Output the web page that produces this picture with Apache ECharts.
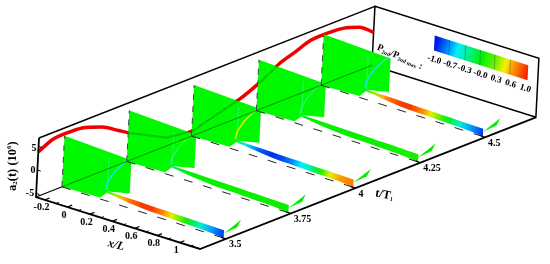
<!DOCTYPE html>
<html lang="en">

<head>
    <meta charset="UTF-8">
    <title>Second mode pressure</title>
    <script src="https://cdn.jsdelivr.net/npm/echarts@6/dist/echarts.min.js"></script>
    <style>
        html, body { margin: 0; padding: 0; background: #fff; }
    </style>
</head>

<body>
    <div id="main" style="width: 550px;height:264px;"></div>
    <script type="text/javascript">
        // axis ranges and ticks
        var xRange = [-0.28, 1.18];
        var tRange = [3.4, 4.696];
        var aRange = [-5.74, 6.81];
        var xTicks = [-0.2, 0, 0.2, 0.4, 0.6, 0.8, 1];
        var xTickLabels = ['-0.2', '0', '0.2', '0.4', '0.6', '0.8', '1'];
        var xMinorTicks = [-0.1, 0.1, 0.3, 0.5, 0.7, 0.9, 1.1];
        var tTicks = [3.5, 3.75, 4, 4.25, 4.5];
        var tTickLabels = ['3.5', '3.75', '4', '4.25', '4.5'];
        var aTicks = [-5, 0, 5];

        // a2(t) curve on the x = xmin wall
        var a2Times = [3.4, 3.454, 3.504, 3.568, 3.646, 3.711, 3.755, 3.905, 4.005, 4.187, 4.255, 4.333, 4.388, 4.45, 4.515, 4.579, 4.638, 4.696];
        var a2Values = [3.83, 5.32, 5.53, 5.32, 3.83, 1.7, 0.21, -4.04, -4.68, -1.7, 0, 2.55, 3.62, 4.89, 5.02, 4.7, 3.62, 1.28];

        // outline of the slice, height counted from the floor in a2 units
        var panelX = [-0.28, -0.28, 0.317, 0.317, 0.13, 0.06];
        var panelH = [0, 10.85, 10.2, 3.1, 2.1, 0.3];
        var arcX = [0.103, 0.12, 0.174, 0.254, 0.3];
        var arcH = [2.25, 4.1, 6.6, 9.2, 10.3];
        var arcColors = ['#18e0e0', '#40f0a0', '#e0f000', '#40f0a0', '#18e0e0'];

        // thin duct part of the slice
        var stripX = [0.12, 0.18, 0.25, 0.31, 0.42, 0.5, 0.6, 0.68, 0.74, 0.8, 0.86, 0.94, 1.04, 1.16];
        var stripLow = [1.7, 1.55, 1.3, 1.1, 0.85, 0.7, 0.65, 0.6, 0.55, 0.5, 0.45, 0.4, 0.3, 0];
        var stripHigh = [2.1, 2.1, 2.05, 2.05, 2, 1.95, 1.9, 1.9, 1.85, 1.8, 1.8, 1.75, 1.7, 1.65];
        var wedgeX = [1.16, 1.305, 1.275];
        var wedgeH = [1.0, 5, 3.2];

        // pressure along the duct for each time
        var p350 = [0.15, 0.35, 0.6, 0.75, 0.88, 0.88, 0.7, 0.45, 0.3, 0.05, -0.15, -0.45, -0.7, -0.95];
        var p375 = [-0.25, -0.08, -0.03, 0, 0, 0, 0, 0, 0, 0, 0, 0, 0, 0];
        var p400 = [-0.2, -0.5, -0.7, -0.85, -0.95, -0.9, -0.75, -0.55, -0.45, -0.2, 0.05, 0.45, 0.65, 0.72];
        var p425 = [-0.1, -0.03, 0, 0, 0, 0, 0, 0, 0, 0, 0, 0.02, 0.04, 0.02];
        var p450 = [0.15, 0.35, 0.6, 0.75, 0.88, 0.88, 0.7, 0.45, 0.3, 0.05, -0.15, -0.45, -0.7, -0.95];
        var stripP = [p350, p375, p400, p425, p450];

        // colour scale
        var scaleValues = [-1, -0.68, -0.55, -0.34, -0.02, 0.29, 0.48, 0.62, 1];
        var scaleColors = ['#0018e8', '#00a8ff', '#00f0f8', '#00f0a0', '#00f000', '#80f000', '#f8f000', '#ffa000', '#f01000'];
        var barLabels = ['-1.0', '-0.7', '-0.3', '-0.0', '0.3', '0.6', '1.0'];
        var barLabelX = [0.26, 0.4, 0.53, 0.67, 0.81, 0.94, 1.07];
        var barLines = [-0.68, -0.34, -0.02, 0.29, 0.62];

        var PANEL_GREEN = '#00f800';
        var SERIF = '"Liberation Serif", "Times New Roman", serif';

        // oblique view of the (x, t, height) box onto the page
        function project(x, t, h) {
            var dx = x - xRange[0], dt = t - tRange[0];
            return [
                36 + dx * 112.3 + dt * 259.2 + h * 0.24,
                197 + dx * 35.6 - dt * 101.6 - h * 4.7
            ];
        }
        function aHeight(a) {
            return a - aRange[0];
        }
        var hTop = aHeight(aRange[1]);

        function scaleColor(p) {
            // piecewise colour between the scale stops
            var i = 0;
            while (i < scaleValues.length - 2 && p > scaleValues[i + 1]) i++;
            var f = (p - scaleValues[i]) / (scaleValues[i + 1] - scaleValues[i]);
            f = Math.max(0, Math.min(1, f));
            var a = echarts.color.parse(scaleColors[i]), b = echarts.color.parse(scaleColors[i + 1]);
            return 'rgb(' + [0, 1, 2].map(function (k) { return Math.round(a[k] + (b[k] - a[k]) * f); }).join(',') + ')';
        }

        function line(api, pts, width, color, extra) {
            return {
                type: 'polyline',
                shape: { points: pts.map(function (p) { return api.coord(p); }) },
                style: Object.assign({ stroke: color, lineWidth: width, fill: 'none' }, extra || {})
            };
        }
        function poly(api, pts, fill) {
            return {
                type: 'polygon',
                shape: { points: pts.map(function (p) { return api.coord(p); }) },
                style: { fill: fill }
            };
        }
        function label(pos, text, size, opts) {
            opts = opts || {};
            return {
                type: 'text',
                x: pos[0],
                y: pos[1],
                rotation: opts.rotation || 0,
                style: {
                    text: text,
                    font: (opts.italic ? 'italic ' : '') + 'bold ' + size + 'px ' + SERIF,
                    fill: '#000',
                    align: opts.align || 'center',
                    verticalAlign: 'middle',
                    rich: opts.rich
                }
            };
        }

        // one custom series per layer
        function layer(name, z, draw) {
            return {
                name: name,
                type: 'custom',
                coordinateSystem: 'cartesian2d',
                z: z,
                silent: true,
                clip: false,
                animation: false,
                data: [[0, 0]],
                renderItem: function (params, api) {
                    return { type: 'group', children: draw(api) };
                }
            };
        }

        var xMin = xRange[0], xMax = xRange[1], tMin = tRange[0], tMax = tRange[1];

        function drawBackFrame(api) {
            return [
                line(api, [project(xMin, tMax, 0), project(xMin, tMax, hTop), project(xMax, tMax, hTop), project(xMax, tMax, 0), project(xMin, tMax, 0)], 1.5, '#000'),
                line(api, [project(xMin, tMin, hTop), project(xMin, tMax, hTop)], 1.5, '#000'),
                line(api, [project(xMin, tMin, 0), project(xMin, tMax, 0)], 1.2, '#000')
            ];
        }

        function drawPanels(api) {
            var out = [];
            tTicks.forEach(function (t, k) {
                out.push(poly(api, panelX.map(function (x, i) { return project(x, t, panelH[i]); }), PANEL_GREEN));
                out.push(line(api, [project(0.12, t, 2.2), project(0.12, t, 9.2)], 1, '#20f860'));

                // shock arc, strong at the wall and fading upward
                var p0 = api.coord(project(arcX[0], t, arcH[0]));
                var p1 = api.coord(project(arcX[arcX.length - 1], t, arcH[arcH.length - 1]));
                var fade = new echarts.graphic.LinearGradient(p0[0], p0[1], p1[0], p1[1], [
                    { offset: 0, color: arcColors[k] },
                    { offset: 0.55, color: arcColors[k] },
                    { offset: 1, color: '#30f080' }
                ], true);
                out.push(line(api, arcX.map(function (x, i) { return project(x, t, arcH[i]); }), k % 2 ? 1 : 1.6, fade));

                // duct with pressure colours running along it
                var upper = stripX.map(function (x, i) { return project(x, t, stripHigh[i]); });
                var lower = stripX.map(function (x, i) { return project(x, t, stripLow[i]); }).reverse();
                var a = api.coord(project(stripX[0], t, 0));
                var b = api.coord(project(stripX[stripX.length - 1], t, 0));
                var span = stripX[stripX.length - 1] - stripX[0];
                var stops = stripX.map(function (x, i) {
                    return { offset: (x - stripX[0]) / span, color: scaleColor(stripP[k][i]) };
                });
                out.push(poly(api, upper.concat(lower), new echarts.graphic.LinearGradient(a[0], a[1], b[0], b[1], stops, true)));
                out.push(poly(api, wedgeX.map(function (x, i) { return project(x, t, wedgeH[i]); }), '#00f000'));
            });
            return out;
        }

        function drawOverPanels(api) {
            var out = [];
            // floor edge and the a2 curve show through the slices
            out.push(line(api, [project(xMin, 3.5, 0), project(xMin, tMax, 0)], 1, 'rgba(0,60,0,0.55)'));
            var seen = [a2Times.slice(6, 10), a2Times.slice(10, 12)];
            var seenA = [a2Values.slice(6, 10), a2Values.slice(10, 12)];
            seen.forEach(function (ts, j) {
                out.push(line(api, ts.map(function (t, i) { return project(xMin, t, aHeight(seenA[j][i])); }), 2, 'rgba(0,90,0,0.3)'));
            });
            tTicks.forEach(function (t) {
                out.push(line(api, [project(xMin, t, 0), project(xMin, t, panelH[1])], 1, '#444', { lineDash: [6, 6] }));
                out.push(line(api, [project(xMin, t, 0), project(1.16, t, 0)], 1, '#222', { lineDash: [9, 11] }));
            });
            return out;
        }

        function drawAxes(api) {
            var out = [];
            out.push(line(api, [project(xMin, tMin, hTop), project(xMin, tMin, 0), project(xMax, tMin, 0), project(xMax, tMax, 0)], 1.8, '#000'));
            xTicks.forEach(function (x, i) {
                out.push(line(api, [project(x, tMin, 0), project(x, tMin + 0.018, 0)], 1.2, '#000'));
                var c = api.coord(project(x, tMin, 0));
                out.push(label([c[0] - 3.5, c[1] + 8], xTickLabels[i], 10));
            });
            xMinorTicks.forEach(function (x) {
                out.push(line(api, [project(x, tMin, 0), project(x, tMin + 0.01, 0)], 1, '#000'));
            });
            tTicks.forEach(function (t, i) {
                out.push(line(api, [project(xMax, t, 0), project(xMax - 0.04, t, 0)], 1.2, '#000'));
                var c = api.coord(project(xMax, t, 0));
                out.push(label([c[0] + 3, c[1] + 6], tTickLabels[i], 10, { align: 'left' }));
            });
            aTicks.forEach(function (a) {
                out.push(line(api, [project(xMin, tMin, aHeight(a)), project(xMin + 0.03, tMin, aHeight(a))], 1, '#000'));
                var c = api.coord(project(xMin, tMin, aHeight(a)));
                out.push(label([c[0] - 2, c[1] + (a > 0 ? 1.5 : 0)], String(a), 10, { align: 'right' }));
            });

            // axis titles
            var sub = { font: 'bold 7px ' + SERIF, verticalAlign: 'bottom', lineHeight: 12 };
            var sup = { font: 'bold 7px ' + SERIF, verticalAlign: 'top', lineHeight: 12 };
            var aPos = api.coord(project(-0.5, tMin, 4.9));
            out.push(label(aPos, 'a{s|2}(t) (10{u|6})', 12.5, { rotation: Math.PI / 2, rich: { s: sub, u: sup } }));
            var xPos = api.coord(project(0.455, tMin - 0.005, -4.6));
            out.push(label(xPos, 'x/L', 12, { italic: true, rotation: -0.26 }));
            var tPos = api.coord(project(1.37, 4.03, -0.7));
            out.push(label(tPos, 't/T{s|1}', 12, { rotation: -0.2, rich: { s: { font: 'bold 6px ' + SERIF, verticalAlign: 'bottom', lineHeight: 12 } } }));
            return out;
        }

        function drawColorBar(api) {
            var out = [];
            var bx = [0.257, 1.09], bh = [7.2, 10.4];
            var a = api.coord(project(bx[0], tMax, bh[0]));
            var b = api.coord(project(bx[1], tMax, bh[0]));
            var stops = scaleValues.map(function (v, i) {
                return { offset: (v + 1) / 2, color: scaleColors[i] };
            });
            out.push(poly(api, [project(bx[0], tMax, bh[1]), project(bx[1], tMax, bh[1]), project(bx[1], tMax, bh[0]), project(bx[0], tMax, bh[0])],
                new echarts.graphic.LinearGradient(a[0], a[1], b[0], b[1], stops, true)));
            barLines.forEach(function (v) {
                var x = bx[0] + (v + 1) / 2 * (bx[1] - bx[0]);
                out.push(line(api, [project(x, tMax, bh[0]), project(x, tMax, bh[1])], 0.6, 'rgba(0,60,40,0.55)'));
            });
            barLabels.forEach(function (t, i) {
                var c = api.coord(project(barLabelX[i], tMax, bh[0]));
                out.push(label([c[0], c[1] + 9], t, 9, { rotation: -0.3 }));
            });
            var tp = api.coord(project(-0.04, tMax, 3.6));
            out.push(label(tp, 'P{s|2nd}/P{s|2nd max} :', 9.5, {
                rotation: -0.42,
                rich: { s: { font: 'bold 5.5px ' + SERIF, verticalAlign: 'bottom', lineHeight: 11 } }
            }));
            return out;
        }

        var myChart = echarts.init(document.getElementById('main'));
        var option = {
            backgroundColor: '#fff',
            animation: false,
            grid: { left: 0, right: 0, top: 0, bottom: 0 },
            xAxis: { type: 'value', min: 0, max: 550, show: false },
            yAxis: { type: 'value', min: 0, max: 264, inverse: true, show: false },
            series: [
                layer('frame', 1, drawBackFrame),
                {
                    name: 'a2(t)',
                    type: 'line',
                    z: 2,
                    silent: true,
                    smooth: 0.25,
                    symbol: 'none',
                    clip: false,
                    lineStyle: { color: '#f00000', width: 3.5 },
                    data: a2Times.map(function (t, i) { return project(xMin, t, aHeight(a2Values[i])); })
                },
                layer('slices', 3, drawPanels),
                layer('through', 4, drawOverPanels),
                layer('axes', 5, drawAxes),
                layer('colour bar', 5, drawColorBar)
            ]
        };
        myChart.setOption(option);
    </script>
</body>

</html>
